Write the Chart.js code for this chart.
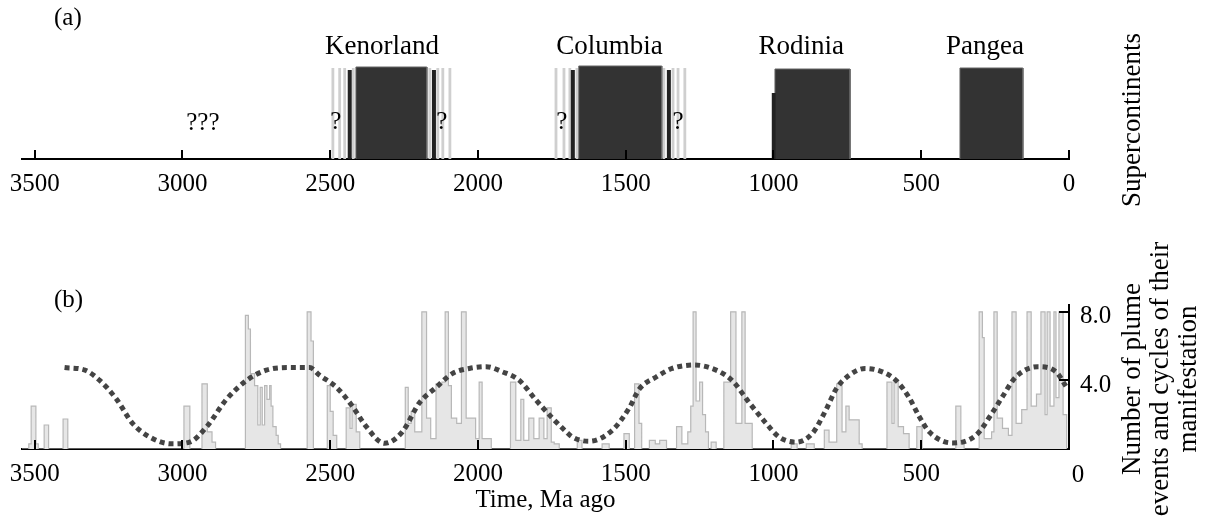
<!DOCTYPE html>
<html>
<head>
<meta charset="utf-8">
<script src="https://cdn.jsdelivr.net/npm/chart.js@4.4.1/dist/chart.umd.min.js"></script>
<style>
  html, body { margin: 0; padding: 0; background: #fff; }
  #wrap { position: relative; width: 1205px; height: 521px; }
  .panel { position: absolute; left: 0; width: 1205px; }
</style>
</head>
<body>
<div id="wrap">
  <div class="panel" style="top:0;height:240px"><canvas id="chartA"></canvas></div>
  <div class="panel" style="top:240px;height:281px"><canvas id="chartB"></canvas></div>
</div>
<script>
const FONT = '"Liberation Serif", "Times New Roman", serif';
const AGE_MIN = 0;
const AGE_MAX = 3543;

const tickAges = [0, 500, 1000, 1500, 2000, 2500, 3000, 3500];
const countTicks = [4, 8];

// (a) supercontinents, ages in Ma
const superNames = ['Kenorland', 'Columbia', 'Rodinia', 'Pangea'];
const superStart = [2413, 1659, 995, 369];
const superEnd = [2173, 1378, 741, 156];
const superTop = [92, 93, 90, 91];
const superLabelAge = [2325, 1555, 906, 284];
const darkLineAge = [2434, 2149, 1679, 1354, 999];
const darkLineTop = [89, 89, 89, 89, 66];
const paleLineAge = [2491, 2468, 2451, 2422, 2163, 2136, 2119, 2095,
                     1736, 1709, 1689, 1665, 1371, 1340, 1323, 1300];
const paleLineTop = 91;
const doubtAge = [2481, 2122, 1716, 1323];
const unknownAge = 2931;

// (b) plume events: value holds from each age to the next one
const plumeAge = [3543, 3520, 3512, 3496, 3488, 3468, 3453, 3404, 3388, 2995, 2975, 2934, 2916, 2900, 2888,
  2787, 2777, 2770, 2756, 2745, 2737, 2730, 2722, 2714, 2705, 2700, 2694, 2683, 2676, 2668,
  2578, 2565, 2557, 2510, 2500, 2490, 2478, 2446, 2433, 2426, 2412, 2400,
  2246, 2236, 2226, 2214, 2190, 2174, 2160, 2142, 2122, 2111, 2100, 2090, 2072, 2056, 2040, 2008, 1996, 1986, 1955,
  1890, 1872, 1855, 1845, 1828, 1811, 1793, 1777, 1766, 1752, 1742, 1725, 1664, 1648, 1580, 1556, 1506, 1488,
  1470, 1455, 1446, 1420, 1400, 1385, 1362, 1328, 1310, 1290, 1280, 1272, 1262, 1250, 1240, 1230, 1220, 1211, 1194,
  1168, 1145, 1127, 1107, 1096, 1072, 940, 920, 889, 862, 828, 812, 786, 768, 755, 744, 710, 700,
  616, 599, 592, 578, 560, 541, 515, 497, 383, 366, 355,
  304, 293, 287, 262, 254, 243, 225, 205, 193, 179, 160, 142, 128, 110, 95, 81, 74, 64, 51, 44, 34, 20, 8];
const plumeCount = [0, 0.3, 2.5, 0.3, 0, 1.4, 0, 1.75, 0, 2.5, 0, 3.8, 1.0, 0.4, 0,
  7.8, 7.0, 4.4, 3.7, 1.4, 3.6, 1.4, 3.7, 2.9, 3.7, 2.5, 1.3, 0.8, 0.3, 0,
  8.0, 6.3, 0, 3.7, 2.2, 0.8, 0, 2.4, 1.2, 2.6, 1.0, 0,
  3.6, 1.5, 2.2, 1.0, 8.0, 1.8, 0.6, 3.8, 3.9, 8.0, 3.7, 1.8, 1.5, 8.0, 1.8, 0.6, 3.9, 0.6, 0,
  3.9, 0.5, 2.9, 0.5, 1.8, 0.6, 1.8, 0.6, 2.4, 0.4, 0.3, 0, 0.5, 0, 0.3, 0, 0.9, 0,
  3.8, 1.5, 0, 0.5, 0.3, 0.5, 0, 1.3, 0.3, 1.0, 2.5, 8.0, 2.8, 3.9, 2.0, 1.0, 0, 0.4, 0,
  3.9, 8.0, 1.5, 8.0, 1.5, 0, 0.3, 0, 0.3, 0, 1.1, 0.4, 3.8, 1.0, 2.5, 1.7, 0.3, 0,
  3.9, 1.5, 4.0, 1.3, 0.9, 0, 1.3, 0, 2.5, 0.3, 0,
  8.0, 6.5, 0.6, 1.0, 8.0, 1.8, 1.2, 0.8, 8.0, 1.5, 2.3, 8.0, 2.5, 3.2, 8.0, 2.0, 8.0, 2.5, 8.0, 3.0, 8.0, 2.0, 0];

// (b) cycles of manifestation (dotted curve)
const cycleAge = [3399, 3330, 3280, 3223, 3169, 3111, 3037, 2976, 2918, 2851, 2783, 2716, 2640, 2570,
  2536, 2479, 2425, 2378, 2316, 2256, 2198, 2141, 2087, 2029, 1972, 1917, 1860, 1806, 1748, 1701,
  1681, 1624, 1545, 1488, 1454, 1397, 1343, 1268, 1194, 1140, 1082, 1025, 981, 925, 869, 822, 788,
  744, 690, 632, 585, 541, 507, 473, 394, 315, 260, 227, 180, 106, 44, 8];
const cycleValue = [4.75, 4.6, 4.0, 2.9, 1.5, 0.7, 0.3, 0.4, 1.3, 2.9, 4.0, 4.6, 4.75, 4.75,
  4.3, 3.6, 2.5, 1.3, 0.33, 1.0, 2.7, 3.6, 4.4, 4.7, 4.8, 4.5, 4.0, 2.9, 1.8, 1.0,
  0.7, 0.45, 1.1, 2.4, 3.5, 4.2, 4.7, 4.9, 4.6, 4.0, 2.7, 1.5, 0.7, 0.4, 0.9, 2.3, 3.5,
  4.3, 4.7, 4.5, 4.0, 3.0, 1.9, 1.0, 0.35, 0.8, 2.1, 3.0, 4.2, 4.8, 4.5, 3.6];

function verticals(ages, tops) {
  const pts = [];
  ages.forEach((a, i) => {
    const t = Array.isArray(tops) ? tops[i] : tops;
    pts.push({ x: a, y: 0 }, { x: a, y: t }, { x: a, y: null });
  });
  return pts;
}

function ageAxis(height, hideZero) {
  return {
    type: 'linear', reverse: true, min: AGE_MIN, max: AGE_MAX,
    afterBuildTicks: s => { s.ticks = tickAges.map(v => ({ value: v })); },
    afterFit: s => { s.height = height; },
    grid: { display: false, drawTicks: false },
    border: { display: true, color: '#000', width: 2 },
    ticks: { padding: 10, color: '#000', font: { family: FONT, size: 25 }, maxRotation: 0, autoSkip: false,
             callback: v => (hideZero && v === 0) ? '' : String(v) }
  };
}

function upTicks(chart) {
  const { ctx, scales: { x }, chartArea } = chart;
  ctx.strokeStyle = '#000';
  ctx.lineWidth = 2;
  tickAges.forEach(a => {
    const px = Math.round(x.getPixelForValue(a));
    ctx.beginPath();
    ctx.moveTo(px, chartArea.bottom);
    ctx.lineTo(px, chartArea.bottom - 9);
    ctx.stroke();
  });
}

const panelA = {
  id: 'panelA',
  afterDraw(chart) {
    const { ctx, scales: { x } } = chart;
    ctx.save();
    upTicks(chart);
    ctx.fillStyle = '#000';
    ctx.textBaseline = 'middle';
    ctx.textAlign = 'center';
    ctx.font = '27px ' + FONT;
    superNames.forEach((n, i) => ctx.fillText(n, x.getPixelForValue(superLabelAge[i]), 47));
    ctx.font = '25px ' + FONT;
    doubtAge.forEach(a => ctx.fillText('?', x.getPixelForValue(a), 122));
    ctx.fillText('???', x.getPixelForValue(unknownAge), 123);
    ctx.textAlign = 'left';
    ctx.fillText('(a)', 54, 18);
    ctx.font = '27px ' + FONT;
    ctx.translate(1133, 120);
    ctx.rotate(-Math.PI / 2);
    ctx.textAlign = 'center';
    ctx.fillText('Supercontinents', 0, 0);
    ctx.restore();
  }
};

const panelB = {
  id: 'panelB',
  afterDraw(chart) {
    const { ctx, scales: { x, y }, chartArea } = chart;
    ctx.save();
    upTicks(chart);
    countTicks.forEach(v => {
      const py = Math.round(y.getPixelForValue(v));
      ctx.beginPath();
      ctx.moveTo(chartArea.right, py);
      ctx.lineTo(chartArea.right - 10, py);
      ctx.stroke();
    });
    ctx.fillStyle = '#000';
    ctx.font = '25px ' + FONT;
    ctx.textBaseline = 'middle';
    ctx.textAlign = 'center';
    ctx.fillText('0', x.getPixelForValue(0) + 9, chartArea.bottom + 26);
    ctx.textAlign = 'left';
    ctx.fillText('(b)', 54, 60);
    ctx.font = '27px ' + FONT;
    ctx.translate(0, 139);
    ctx.rotate(-Math.PI / 2);
    ctx.textAlign = 'center';
    ['Number of plume', 'events and cycles of their', 'manifestation'].forEach((t, i) => {
      ctx.fillText(t, 0, 1133 + i * 28);
    });
    ctx.restore();
  }
};

new Chart(document.getElementById('chartA'), {
  type: 'line',
  data: {
    datasets: [
      {
        data: verticals(darkLineAge, darkLineTop),
        borderColor: '#222', borderWidth: 4, pointRadius: 0, spanGaps: false, fill: false
      },
      ...superNames.map((n, i) => ({
        label: n,
        data: [
          { x: superStart[i], y: 0 }, { x: superStart[i], y: superTop[i] },
          { x: superEnd[i], y: superTop[i] }, { x: superEnd[i], y: 0 }
        ],
        borderColor: '#666', borderWidth: 1, backgroundColor: '#333333',
        fill: 'origin', pointRadius: 0, tension: 0
      })),
      {
        data: verticals(paleLineAge, paleLineTop),
        borderColor: '#cfcfcf', borderWidth: 2.8, pointRadius: 0, spanGaps: false, fill: false
      }
    ]
  },
  options: {
    responsive: true, maintainAspectRatio: false, animation: false,
    layout: { padding: { left: 22, right: 1205 - 1069, top: 59, bottom: 41 } },
    plugins: { legend: { display: false }, tooltip: { enabled: false } },
    scales: {
      x: ageAxis(40, false),
      y: { display: false, min: 0, max: 100 }
    }
  },
  plugins: [panelA]
});

const yFont = { family: FONT, size: 25 };
const xB = ageAxis(72, true);
xB.title = { display: true, text: 'Time, Ma ago', color: '#000', font: yFont, padding: { top: 0, bottom: 6 } };

new Chart(document.getElementById('chartB'), {
  type: 'line',
  data: {
    datasets: [
      {
        label: 'cycles',
        data: cycleAge.map((a, i) => ({ x: a, y: cycleValue[i] })),
        borderColor: '#444', borderWidth: 5, borderDash: [5, 4], borderCapStyle: 'butt',
        pointRadius: 0, fill: false, cubicInterpolationMode: 'monotone'
      },
      {
        label: 'plume events',
        data: plumeAge.map((a, i) => ({ x: a, y: plumeCount[i] })),
        stepped: 'before', borderColor: '#b8b8b8', borderWidth: 1.2,
        backgroundColor: '#e6e6e6', fill: 'origin', pointRadius: 0
      }
    ]
  },
  options: {
    responsive: true, maintainAspectRatio: false, animation: false,
    layout: { padding: { left: 22, right: 0, top: 65, bottom: 0 } },
    plugins: { legend: { display: false }, tooltip: { enabled: false } },
    scales: {
      x: xB,
      y: {
        position: 'right', min: 0, max: 8.4,
        afterBuildTicks: s => { s.ticks = countTicks.map(v => ({ value: v })); },
        afterFit: s => { s.width = 136; },
        grid: { display: false, drawTicks: false },
        border: { display: true, color: '#000', width: 2 },
        ticks: { padding: 11, labelOffset: 5, color: '#000', font: yFont, callback: v => v.toFixed(1) }
      }
    }
  },
  plugins: [panelB]
});
</script>
</body>
</html>
